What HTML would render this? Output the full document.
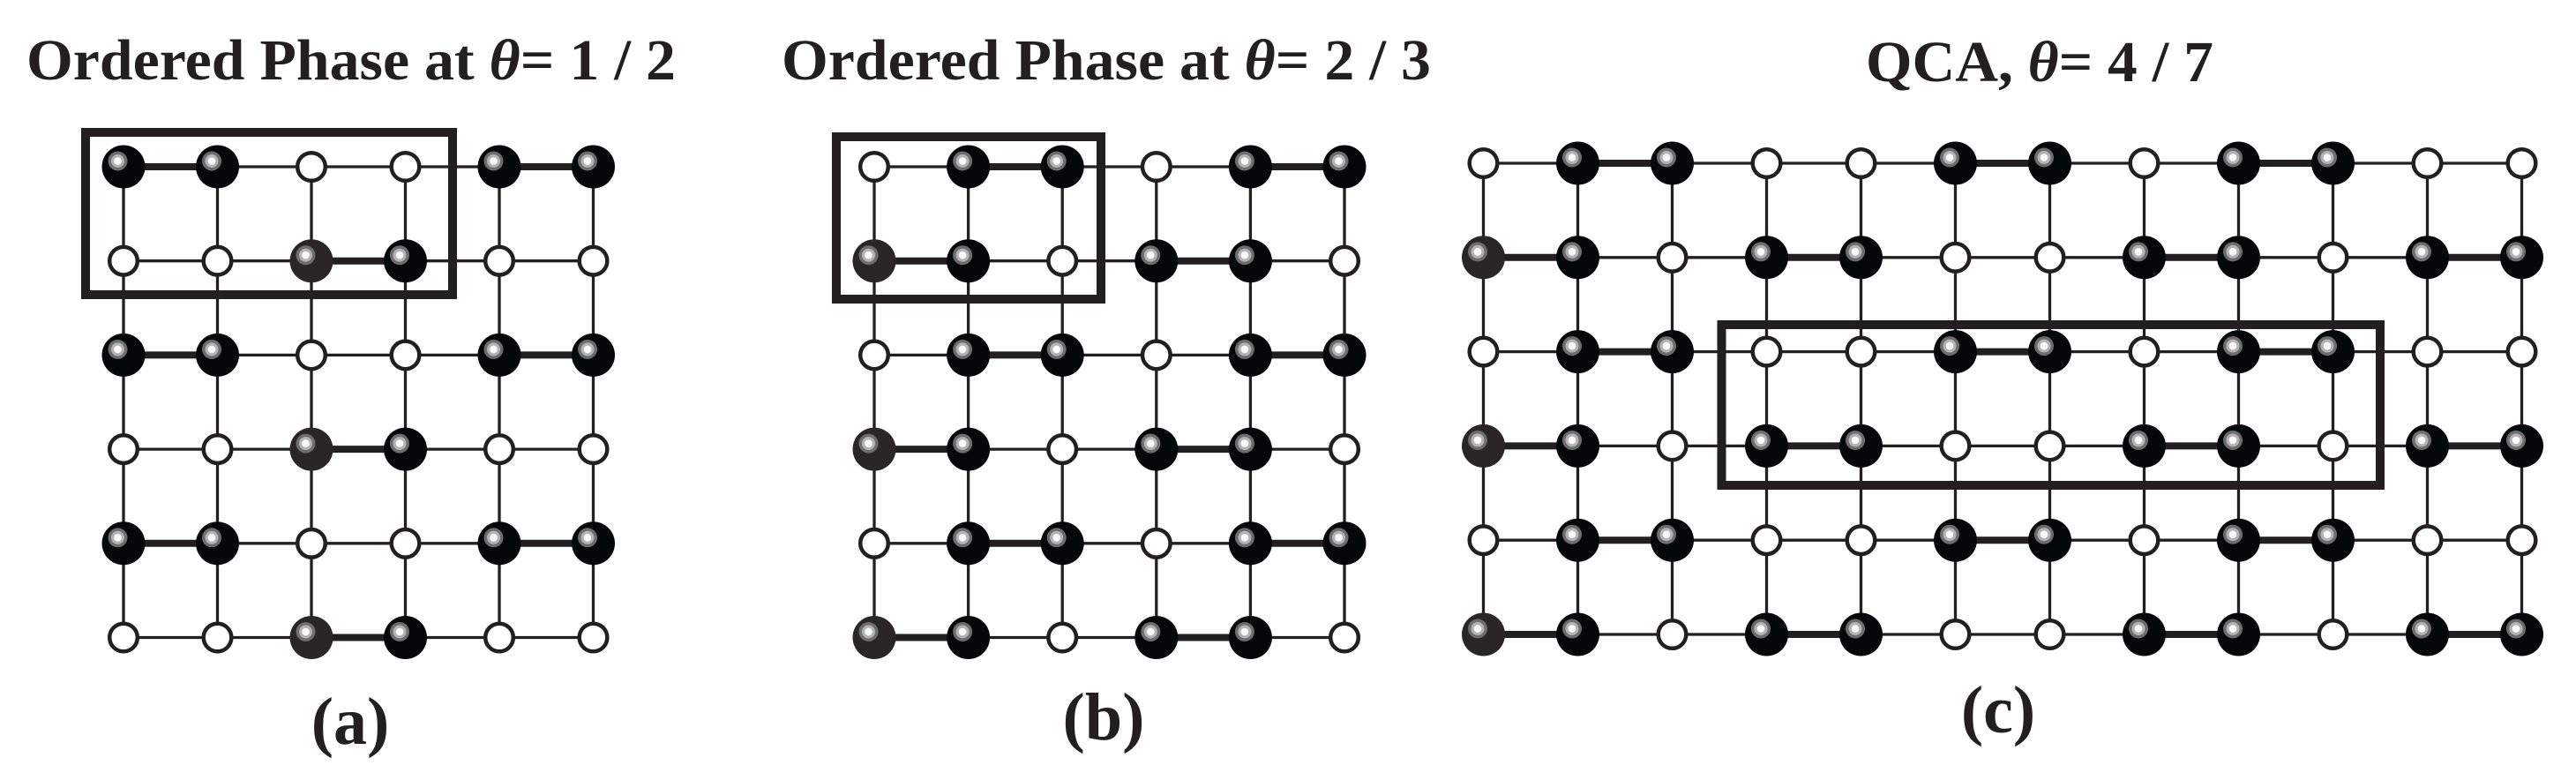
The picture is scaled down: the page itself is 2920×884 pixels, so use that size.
<!DOCTYPE html>
<html><head><meta charset="utf-8">
<style>
html,body{margin:0;padding:0;background:#fff;}
svg{display:block;}
text{font-family:"Liberation Serif",serif;font-weight:bold;fill:#231f20;}
</style></head>
<body>
<svg id="s" width="2920" height="884" viewBox="0 0 2920 884" xmlns="http://www.w3.org/2000/svg">
<text x="30" y="90" font-size="66" textLength="736" lengthAdjust="spacingAndGlyphs">Ordered Phase at <tspan font-style="italic">θ</tspan>= 1 / 2</text>
<text x="886" y="90" font-size="66" textLength="736" lengthAdjust="spacingAndGlyphs">Ordered Phase at <tspan font-style="italic">θ</tspan>= 2 / 3</text>
<text x="2115" y="92" font-size="66" textLength="394" lengthAdjust="spacingAndGlyphs">QCA, <tspan font-style="italic">θ</tspan>= 4 / 7</text>
<text x="397" y="843" font-size="76" text-anchor="middle">(a)</text>
<text x="1251" y="838" font-size="76" text-anchor="middle">(b)</text>
<text x="2265" y="830" font-size="76" text-anchor="middle">(c)</text>
<g id="g"></g>
</svg>
<script>
var NS="http://www.w3.org/2000/svg",g=document.getElementById("g");
function el(t,a){var e=document.createElementNS(NS,t);for(var k in a)e.setAttribute(k,a[k]);g.appendChild(e);return e;}
function panel(x0,y0,dx,dy,rows,box,grayCol){
  var nr=rows.length,nc=rows[0].length;
  var X=function(c){return x0+c*dx},Y=function(r){return y0+r*dy};
  for(var r=0;r<nr;r++)el("line",{x1:X(0),y1:Y(r),x2:X(nc-1),y2:Y(r),stroke:"#231f20","stroke-width":3.3});
  for(var c=0;c<nc;c++)el("line",{x1:X(c),y1:Y(0),x2:X(c),y2:Y(nr-1),stroke:"#231f20","stroke-width":3.3});
  el("rect",{x:box[0],y:box[1],width:box[2]-box[0],height:box[3]-box[1],fill:"none",stroke:"#231f20","stroke-width":10});
  for(var r=0;r<nr;r++){var s=rows[r];
    for(var c=0;c<nc;c++){ if(s[c]=="B"&&s[c+1]=="B"){
      el("line",{x1:X(c),y1:Y(r),x2:X(c+1),y2:Y(r),stroke:"#231f20","stroke-width":8});c++;}}
  }
  for(var r=0;r<nr;r++)for(var c=0;c<nc;c++){
    var cx=X(c),cy=Y(r);
    if(rows[r][c]=="B"){
      var col=(c==grayCol && r%2==1)?"#2a2627":"#050808";
      el("circle",{cx:cx,cy:cy,r:24.5,fill:col});
      el("circle",{cx:cx-6.5,cy:cy-6.5,r:11,fill:"#6d6d6d"});
      el("circle",{cx:cx-6.5,cy:cy-6.5,r:7.5,fill:"#b4b4b4"});
      el("circle",{cx:cx-6.5,cy:cy-6.5,r:4.3,fill:"#fafafa"});
    } else {
      el("circle",{cx:cx,cy:cy,r:15.8,fill:"#fff",stroke:"#231f20","stroke-width":4.5});
    }
  }
}
var a=["BBWWBB","WWBBWW","BBWWBB","WWBBWW","BBWWBB","WWBBWW"];
panel(140,189,106.5,106.7,a,[97,150,513,334],2);
var b=["WBBWBB","BBWBBW","WBBWBB","BBWBBW","WBBWBB","BBWBBW"];
panel(991,189,106.6,106.7,b,[948,155,1248,339],0);
var c1="WBBWWBBWBBWW",c2="BBWBBWWBBWBB";
panel(1681.5,185,107,106.8,[c1,c2,c1,c2,c1,c2],[1951.5,368,2698,550],0);
</script>
</body></html>
